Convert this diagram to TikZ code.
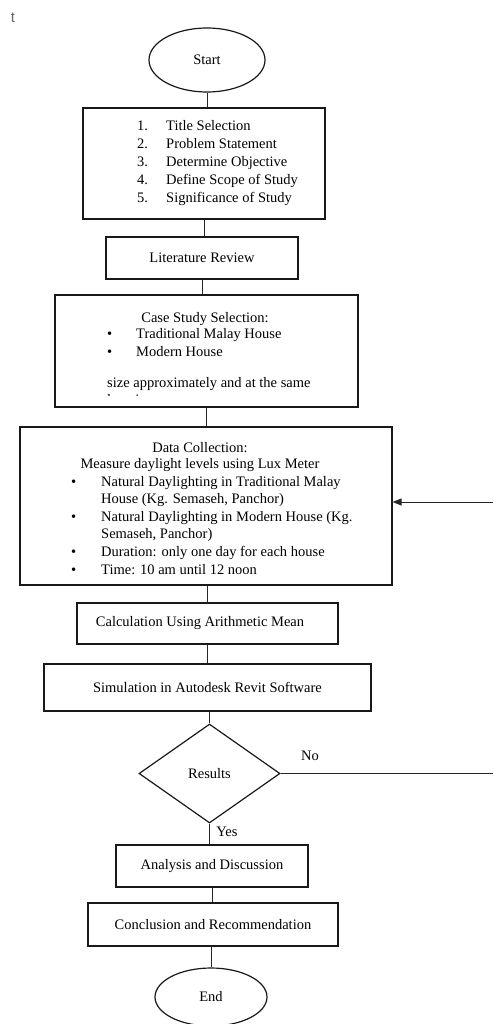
\documentclass[tikz,border=0pt]{standalone}
\usepackage{fontspec}
\setmainfont{Liberation Serif}
\newfontfamily\sansf{Liberation Sans}
\usetikzlibrary{shapes.geometric,arrows.meta}
\begin{document}
\begin{tikzpicture}[x=1pt,y=-1pt,
  box/.style={draw=black!90, line width=1.2pt, rectangle, inner sep=0pt, font=\fontsize{14.5}{17.6}\selectfont},
  oval/.style={draw=black!90, line width=1.2pt, ellipse, inner sep=0pt, font=\fontsize{14.5}{17.6}\selectfont},
  decision/.style={draw=black!90, line width=1.2pt, diamond, inner sep=0pt, font=\fontsize{14.5}{17.6}\selectfont},
  conn/.style={draw=black!85, line width=1pt},
  txt/.style={inner sep=0pt, font=\fontsize{14.5}{17.6}\selectfont},
]
\useasboundingbox (0,0) rectangle (493,1024);

\node[inner sep=0pt, text=black!60, font=\sansf\fontsize{15}{18}\selectfont] (tt) at (13,18) {t};

% shapes
\node[oval, minimum width=116pt, minimum height=64pt] (start) at (207,60) {Start};
\node[box, minimum width=242pt, minimum height=111pt] (b1) at (204,163.5) {};
\node[box, minimum width=192pt, minimum height=42pt] (b2) at (202,258) {Literature Review};
\node[box, minimum width=303pt, minimum height=112pt] (b3) at (206.5,351) {};
\node[box, minimum width=372pt, minimum height=158pt] (b4) at (206,506) {};
\node[box, minimum width=261pt, minimum height=41pt] (b5) at (207.5,623.5) {};
\node[box, minimum width=327pt, minimum height=47pt] (b6) at (207.5,687.5) {Simulation in Autodesk Revit Software};
\node[decision, minimum width=141pt, minimum height=99pt] (dia) at (209.5,773.5) {Results};
\node[box, minimum width=192pt, minimum height=42pt] (b7) at (212,866) {Analysis and Discussion};
\node[box, minimum width=250pt, minimum height=43pt] (b8) at (213,924.5) {Conclusion and Recommendation};
\node[oval, minimum width=112pt, minimum height=58pt] (end) at (211,997) {End};

% texts
\node[txt, anchor=base west] (t1) at (137,131) {\fontsize{14.5}{18}\selectfont
  \begin{tabular}[t]{@{}p{29pt}@{}l@{}}
  1. & Title Selection\\
  2. & Problem Statement\\
  3. & Determine Objective\\
  4. & Define Scope of Study\\
  5. & Significance of Study
  \end{tabular}};

\node[txt, anchor=base] (t3a) at (205,322) {Case Study Selection:};
\node[txt, anchor=base west] (t3b) at (107,338) {\fontsize{14.5}{18}\selectfont
  \begin{tabular}[t]{@{}p{29pt}@{}l@{}}
  \textbullet & Traditional Malay House\\
  \textbullet & Modern House
  \end{tabular}};
\node[txt, anchor=base west] (t3c) at (107,387) {size approximately and at the same};
\begin{scope}
  \clip (60,380) rectangle (350,395.5);
  \node[txt, anchor=base west] (t3d) at (107,404) {location.};
\end{scope}

\node[txt, anchor=base] (t4a) at (200,452) {Data Collection:};
\node[txt, anchor=base] (t4b) at (200,468) {Measure daylight levels using Lux Meter};
\node[txt, anchor=base west] (t4c) at (71,486) {
  \begin{tabular}[t]{@{}p{30pt}@{}l@{}}
  \textbullet & Natural Daylighting in Traditional Malay\\
   & House (Kg. Semaseh, Panchor)\\
  \textbullet & Natural Daylighting in Modern House (Kg.\\
   & Semaseh, Panchor)\\
  \textbullet & Duration: only one day for each house\\
  \textbullet & Time: 10 am until 12 noon
  \end{tabular}};

\node[txt] (t5) at (200,623) {Calculation Using Arithmetic Mean};

\node[txt] (no) at (310,756) {No};
\node[txt] (yes) at (227,832) {Yes};

% connectors
\draw[conn] (start.south) -- (start.south |- b1.north);
\draw[conn] (b1.south) -- (b1.south |- b2.north);
\draw[conn] (b2.south) -- (b2.south |- b3.north);
\draw[conn] (b3.south) -- (b3.south |- b4.north);
\draw[conn] (b5.north |- b4.south) -- (b5.north);
\draw[conn] (b5.south) -- (b5.south |- b6.north);
\draw[conn] (dia.north |- b6.south) -- (dia.north);
\draw[conn] (dia.south) -- (dia.south |- b7.north);
\draw[conn] (b7.south) -- (b7.south |- b8.north);
\draw[conn] (end.north |- b8.south) -- (end.north);

\coordinate (r1) at (493,773.5);
\coordinate (r2) at (493,502);
\draw[conn] (dia.east) -- (r1);
\draw[conn, -{Triangle[length=9pt,width=7pt]}] (r2) -- (b4.east |- r2);
\end{tikzpicture}
\end{document}
